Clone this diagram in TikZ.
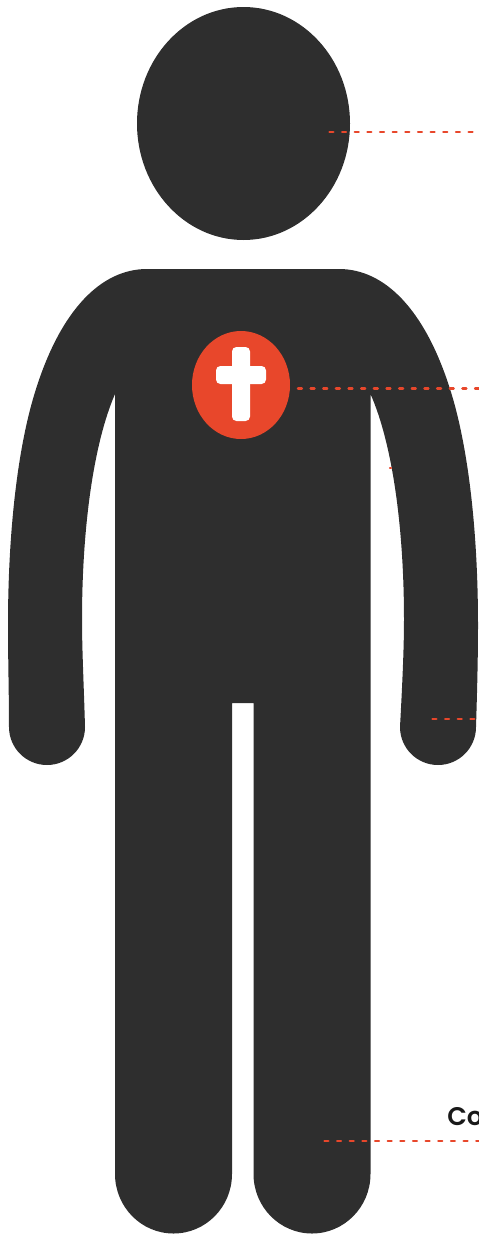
\documentclass[tikz,border=0pt]{standalone}
\usepackage{fontspec}
\setsansfont{Poppins}[BoldFont={Poppins SemiBold}]
\definecolor{bodygray}{HTML}{2E2E2E}
\definecolor{leaderred}{HTML}{E8472B}

\begin{document}
\begin{tikzpicture}[x=0.02cm, y=-0.02cm,
    figure/.style={fill=bodygray},
    leader/.style={leaderred, line width=1.4pt, line cap=round, dash pattern=on 2.2pt off 5pt}]
\useasboundingbox (0,0) rectangle (478,1234);

% Head
\fill[figure] (243.5,123.5) ellipse (106.5 and 116.5);

% Body
\fill[figure] (147,269) -- (339,269)
  .. controls (385,269) and (425,310) .. (450,389)
  .. controls (468,445) and (478,530) .. (478,625)
  .. controls (478,660) and (477,695) .. (476,727)
  arc (0:180:38)
  .. controls (402,690) and (404,650) .. (404,620)
  .. controls (404,530) and (393,445) .. (370.5,394)
  -- (370.5,1174) arc (0:180:58.5 and 59.5)
  -- (253.5,703) -- (232,703)
  -- (232,1174) arc (0:180:58.5 and 59.5)
  -- (115,394)
  .. controls (93,445) and (82,530) .. (82,620)
  .. controls (82,650) and (84,690) .. (85,727)
  arc (0:180:38)
  .. controls (9,695) and (8,660) .. (8,625)
  .. controls (8,530) and (18,445) .. (36,389)
  .. controls (61,310) and (101,269) .. (147,269) -- cycle;

% Badge
\fill[leaderred] (241,385) ellipse (49 and 54);
\fill[white, rounded corners=2.5pt] (232,347) rectangle (250,421);
\fill[white, rounded corners=2.5pt] (216,366) rectangle (266,384);

% Leader ends
\coordinate (headstart) at (329.5,132);
\coordinate (headend) at (490,132);
\coordinate (badgestart) at (298,388.5);
\coordinate (badgeend) at (490,388.5);
\coordinate (armstart) at (390,468);
\coordinate (armend) at (391,468);
\coordinate (handstart) at (432.5,719);
\coordinate (handend) at (490,719);
\coordinate (legstart) at (324.5,1141);
\coordinate (legend) at (490,1141);

% Leaders
\draw[leader] (headstart) -- (headend);
\draw[leader] (badgestart) -- (badgeend);
\draw[leader] (armstart) -- (armend);
\draw[leader] (handstart) -- (handend);
\draw[leader] (legstart) -- (legend);

% Clipped label
\node[anchor=base west, inner sep=0pt, font=\sffamily\bfseries\fontsize{14.5}{17}\selectfont, text=black!90] (leglabel) at (447,1125) {Co};

\end{tikzpicture}
\end{document}
